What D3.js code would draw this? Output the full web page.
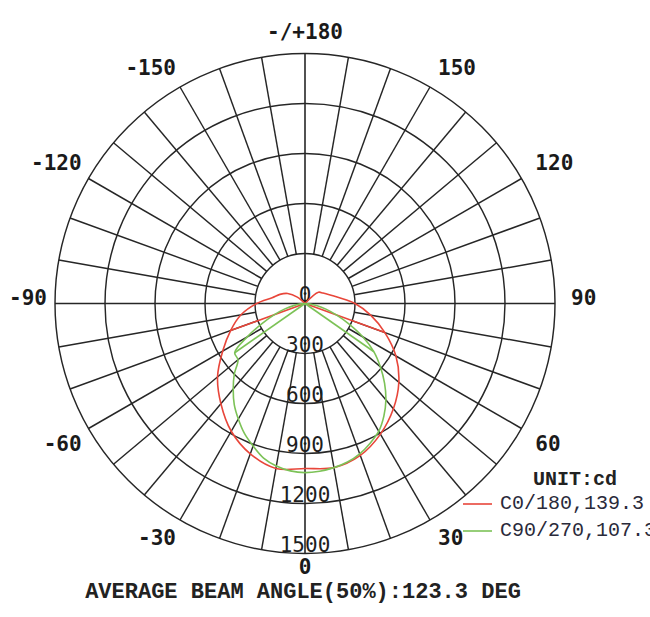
<!DOCTYPE html>
<html><head><meta charset="utf-8">
<script src="https://cdn.jsdelivr.net/npm/d3@7"></script>
<style>html,body{margin:0;padding:0;background:#fff;overflow:hidden}</style>
</head><body>
<svg id="chart" width="650" height="617"></svg>
<script>
// ---- data ----
const maxValue = 1500;
const ringValues = [300, 600, 900, 1200, 1500];
const ringLabels = ["0", "300", "600", "900", "1200", "1500"];
const ringLabelValues = [0, 300, 600, 900, 1200, 1500];
const angleTicks = [0, 30, 60, 90, 120, 150, 180, -150, -120, -90, -60, -30];
const angleTickLabels = ["0", "30", "60", "90", "120", "150", "-/+180", "-150", "-120", "-90", "-60", "-30"];
const spokeStep = 10;

// C0/180 plane (red), gamma 0..180 step 10
const gammaRed = [0,10,20,30,40,50,60,70,80,90,100,110,120,130,140,150,160,170,180];
const redC0   = [990,1000,970,905,825,735,630,510,400,300,205,155,125,105,0,0,0,0,0];
const redC180 = [990,1005,960,885,785,685,570,475,390,290,200,160,120,60,0,0,0,0,0];
const redJoinGamma = 70;

// C90/270 plane (green), gamma 0..90 step 5
const gammaGreen = [0,5,10,15,20,25,30,35,40,45,50,55,60,65,70,75,80,85,90];
const greenC90  = [1015,1010,1000,985,960,925,885,825,755,675,590,505,400,290,200,130,70,30,0];
const greenC270 = [1015,1008,990,960,910,860,800,740,670,600,525,515,400,285,195,125,65,25,0];
const greenJoinGamma = 55;

const seriesNames = ["C0/180,139.3", "C90/270,107.3"];
const unitLabel = "UNIT:cd";
const beamText = "AVERAGE BEAM ANGLE(50%):123.3 DEG";

// ---- layout ----
const cx = 305, cy = 303.5, R = 250;
const svg = d3.select("#chart");
const g = svg.append("g").attr("transform", `translate(${cx},${cy})`);
const r = d3.scaleLinear().domain([0, maxValue]).range([0, R]);
const toRad = d => d * Math.PI / 180;
const gridColor = "#262626";
const redColor = "#e8463a", greenColor = "#7cc257";
const gridW = 1.45;

// rings
g.selectAll("circle.ring").data(ringValues).join("circle")
  .attr("class", "ring").attr("r", d => r(d))
  .attr("fill", "none").attr("stroke", gridColor).attr("stroke-width", gridW);

// spokes
const spokes = d3.range(-180 + spokeStep, 180 + 1, spokeStep).filter(a => a % 90 !== 0);
g.selectAll("line.spoke").data(spokes).join("line")
  .attr("class", "spoke")
  .attr("x1", a => r(ringValues[0]) * Math.sin(toRad(a)))
  .attr("y1", a => r(ringValues[0]) * Math.cos(toRad(a)))
  .attr("x2", a => r(maxValue) * Math.sin(toRad(a)))
  .attr("y2", a => r(maxValue) * Math.cos(toRad(a)))
  .attr("stroke", gridColor).attr("stroke-width", gridW);

// main axes
g.selectAll("line.axis").data([0, 90]).join("line")
  .attr("class", "axis")
  .attr("x1", a => -r(maxValue) * Math.sin(toRad(a)))
  .attr("y1", a => -r(maxValue) * Math.cos(toRad(a)))
  .attr("x2", a => r(maxValue) * Math.sin(toRad(a)))
  .attr("y2", a => r(maxValue) * Math.cos(toRad(a)))
  .attr("stroke", gridColor).attr("stroke-width", 1.6);

// ring labels
g.selectAll("text.rl").data(ringLabelValues).join("text")
  .attr("class", "rl")
  .attr("x", 0).attr("y", d => r(d) - 8.5)
  .attr("text-anchor", "middle").attr("dominant-baseline", "central")
  .attr("font-family", "DejaVu Sans Mono").attr("font-size", 21)
  .attr("fill", "#1e1e1e")
  .text((d, i) => ringLabels[i]);

// angle labels
function labelDy(a) {
  const m = Math.abs(a);
  if (m === 60) return 5;
  if (m === 90 || m === 120) return -6;
  if (m === 150) return -2;
  if (m === 0) return -6.5;
  if (m === 180) return -1.2;
  return 0.5;
}
g.selectAll("text.al").data(angleTicks).join("text")
  .attr("class", "al")
  .attr("x", a => { const s = Math.sin(toRad(a)); return s > 0.01 ? 266 * s : (s < -0.01 ? 258 * s : 0); })
  .attr("y", a => 270 * Math.cos(toRad(a)) + labelDy(a))
  .attr("text-anchor", a => { const s = Math.sin(toRad(a)); return s > 0.01 ? "start" : (s < -0.01 ? "end" : "middle"); })
  .attr("dominant-baseline", "central")
  .attr("font-family", "DejaVu Sans Mono").attr("font-weight", "bold").attr("font-size", 21)
  .attr("fill", "#1a1a1a")
  .text((a, i) => angleTickLabels[i]);

// curves
function toXY(p) { const rr = r(p[1]), a = toRad(p[0]); return [rr * Math.sin(a), rr * Math.cos(a)]; }
function dedupe(pts) {
  return pts.filter((p, i) => i === 0 || Math.hypot(p[0] - pts[i-1][0], p[1] - pts[i-1][1]) > 0.01);
}
function drawSeries(gammas, right, left, joinG, color) {
  const j = gammas.indexOf(joinG);
  const lobe = [];
  for (let i = gammas.length - 1; i >= 0; i--) lobe.push(toXY([gammas[i], right[i]]));
  for (let i = 1; i < gammas.length; i++) lobe.push(toXY([-gammas[i], left[i]]));
  const smooth = d3.line().curve(d3.curveCatmullRom.alpha(0.5));
  const straight = d3.line();
  g.append("path").attr("d", smooth(dedupe(lobe)))
    .attr("fill", "none").attr("stroke", color).attr("stroke-width", 1.6);
  [[[0, 0], toXY([joinG, right[j]])], [[0, 0], toXY([-joinG, left[j]])]].forEach(seg => {
    g.append("path").attr("d", straight(seg))
      .attr("fill", "none").attr("stroke", color).attr("stroke-width", 1.6);
  });
}
drawSeries(gammaRed, redC0, redC180, redJoinGamma, redColor);
drawSeries(gammaGreen, greenC90, greenC270, greenJoinGamma, greenColor);

// legend
svg.append("text").attr("x", 533).attr("y", 479).attr("dominant-baseline", "central")
  .attr("font-family", "Liberation Mono").attr("font-weight", "bold").attr("font-size", 20)
  .attr("fill", "#222").text(unitLabel);
const legColors = [redColor, greenColor];
const legY = [503, 530];
seriesNames.forEach((name, i) => {
  svg.append("line").attr("x1", 463).attr("x2", 492).attr("y1", legY[i] + 1).attr("y2", legY[i] + 1)
    .attr("stroke", legColors[i]).attr("stroke-width", 1.6);
  svg.append("text").attr("x", 500).attr("y", legY[i]).attr("dominant-baseline", "central")
    .attr("font-family", "Liberation Mono").attr("font-size", 20)
    .attr("fill", "#2a2a3a").text(name);
});

// beam angle text
svg.append("text").attr("x", 303).attr("y", 592).attr("text-anchor", "middle").attr("dominant-baseline", "central")
  .attr("font-family", "Liberation Mono").attr("font-weight", "bold").attr("font-size", 22)
  .attr("fill", "#222").text(beamText);
</script>
</body></html>
